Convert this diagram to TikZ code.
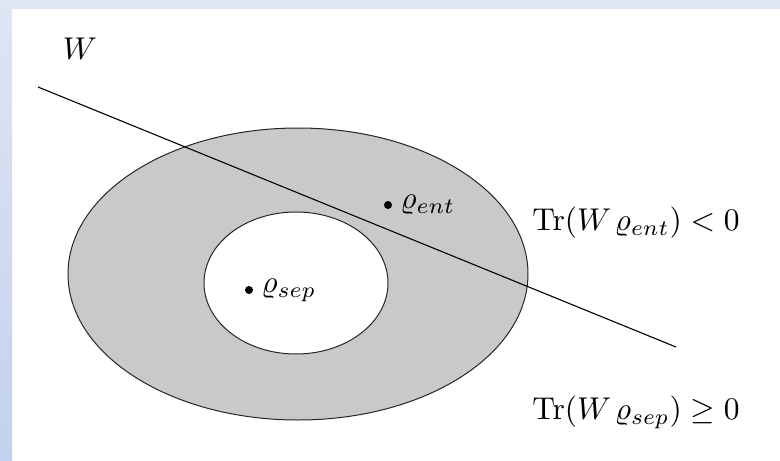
\documentclass[tikz,border=0pt]{standalone}
\definecolor{frametop}{HTML}{DFE5F3}
\definecolor{framebot}{HTML}{C3D1EE}
\definecolor{setgray}{HTML}{C9C9C9}
\newcommand{\slidetext}[1]{\scalebox{3.15}{#1}}
\begin{document}
\begin{tikzpicture}[x=1pt,y=-1pt,
  lbl/.style={inner sep=0pt},
  pt/.style={circle,fill=black,inner sep=0pt,minimum size=8pt},
  setline/.style={draw=black!85,line width=1pt}]
  % page and slide frame
  \useasboundingbox (0,0) rectangle (780,461);
  \fill[white] (0,0) rectangle (780,461);
  \fill[frametop] (0,0) rectangle (780,9);
  \shade[top color=frametop,bottom color=framebot] (0,0) rectangle (12,461);
  % sets: entangled region (gray) with separable core (white)
  \path[setline,fill=setgray] (298,274) ellipse [x radius=230,y radius=146];
  \path[setline,fill=white] (296,283) ellipse [x radius=92,y radius=71];
  % witness hyperplane
  \coordinate (wa) at (38,87);
  \coordinate (wb) at (676,347);
  \draw[line width=1.1pt] (wa) -- (wb);
  \node[lbl] (W) at (80,49) {\slidetext{$W$}};
  % states
  \node[pt] (ent) at (388,205) {};
  \node[lbl,anchor=west] (entl) at ([xshift=8pt]ent.east) {\slidetext{$\varrho_{ent}$}};
  \node[pt] (sep) at (249,290) {};
  \node[lbl,anchor=west] (sepl) at ([xshift=8pt]sep.east) {\slidetext{$\varrho_{sep}$}};
  % expectation values
  \node[lbl] (tent) at (636,223) {\slidetext{$\mathrm{Tr}(W\mkern2mu\varrho_{ent})<0$}};
  \node[lbl] (tsep) at (636,412) {\slidetext{$\mathrm{Tr}(W\mkern2mu\varrho_{sep})\geq 0$}};
\end{tikzpicture}
\end{document}
